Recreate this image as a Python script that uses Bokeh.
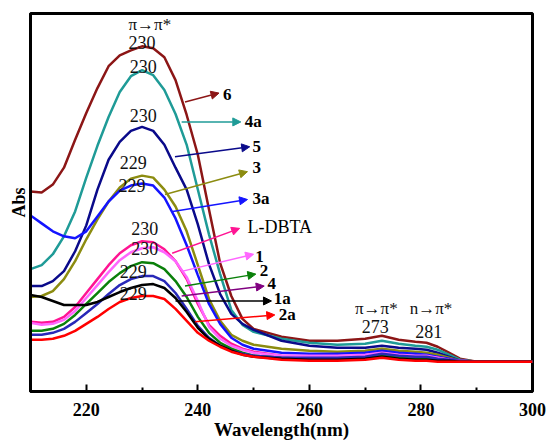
from bokeh.plotting import figure
from bokeh.models import Range1d, FixedTicker, Arrow, NormalHead, ColumnDataSource
from bokeh.core.properties import value
from bokeh.embed import file_html
from bokeh.resources import INLINE

# ---------------- data ----------------
wavelength = [210, 212, 214, 216, 218, 220, 222, 224, 226, 228, 230, 232, 234, 236, 238, 240,
              242, 244, 246, 248, 250, 255, 260, 265, 270, 273, 276, 279, 281, 283, 285, 287,
              290, 295, 300]

abs_6 = [2.01, 2.00, 2.08, 2.25, 2.53, 2.80, 3.05, 3.27, 3.38, 3.43, 3.47, 3.45, 3.36, 3.13, 2.78, 2.38,
         1.83, 1.29, 0.96, 0.73, 0.63, 0.55, 0.51, 0.51, 0.53, 0.56, 0.52, 0.50, 0.49, 0.45, 0.39, 0.33,
         0.30, 0.30, 0.30]
abs_4a = [1.23, 1.27, 1.38, 1.56, 1.81, 2.15, 2.47, 2.76, 3.01, 3.17, 3.23, 3.18, 3.03, 2.79, 2.48, 2.03,
          1.58, 1.18, 0.82, 0.67, 0.60, 0.53, 0.49, 0.47, 0.48, 0.51, 0.48, 0.46, 0.45, 0.42, 0.37, 0.32,
          0.30, 0.30, 0.30]
abs_5 = [1.06, 1.06, 1.11, 1.21, 1.41, 1.67, 2.03, 2.33, 2.51, 2.62, 2.66, 2.62, 2.48, 2.25, 2.03, 1.68,
         1.28, 0.98, 0.78, 0.68, 0.62, 0.51, 0.46, 0.44, 0.44, 0.46, 0.44, 0.43, 0.42, 0.39, 0.35, 0.31,
         0.30, 0.30, 0.30]
abs_3 = [0.95, 0.96, 1.01, 1.13, 1.31, 1.53, 1.73, 1.91, 2.05, 2.14, 2.17, 2.15, 2.03, 1.86, 1.61, 1.27,
         0.93, 0.71, 0.57, 0.51, 0.47, 0.43, 0.41, 0.40, 0.41, 0.43, 0.41, 0.40, 0.39, 0.37, 0.34, 0.31,
         0.30, 0.30, 0.30]
abs_3a = [1.77, 1.69, 1.61, 1.56, 1.54, 1.61, 1.76, 1.91, 2.02, 2.07, 2.09, 2.07, 1.95, 1.74, 1.47, 1.17,
          0.88, 0.68, 0.54, 0.47, 0.43, 0.39, 0.38, 0.38, 0.39, 0.41, 0.39, 0.38, 0.37, 0.35, 0.33, 0.31,
          0.30, 0.30, 0.30]
abs_ldbta = [0.70, 0.69, 0.70, 0.75, 0.85, 0.99, 1.13, 1.27, 1.39, 1.47, 1.51, 1.50, 1.43, 1.31, 1.13, 0.88,
             0.67, 0.56, 0.48, 0.43, 0.40, 0.36, 0.35, 0.35, 0.36, 0.38, 0.36, 0.35, 0.35, 0.34, 0.32, 0.31,
             0.30, 0.30, 0.30]
abs_1 = [0.69, 0.67, 0.68, 0.72, 0.81, 0.94, 1.07, 1.20, 1.32, 1.40, 1.44, 1.45, 1.40, 1.31, 1.15, 0.91,
         0.65, 0.53, 0.46, 0.42, 0.39, 0.36, 0.36, 0.36, 0.37, 0.39, 0.37, 0.36, 0.36, 0.34, 0.32, 0.31,
         0.30, 0.30, 0.30]
abs_2 = [0.61, 0.61, 0.63, 0.68, 0.77, 0.88, 0.99, 1.10, 1.19, 1.26, 1.30, 1.29, 1.23, 1.11, 0.95, 0.75,
         0.59, 0.49, 0.43, 0.39, 0.36, 0.34, 0.33, 0.33, 0.34, 0.36, 0.34, 0.33, 0.33, 0.32, 0.31, 0.30,
         0.30, 0.30, 0.30]
abs_4 = [0.57, 0.57, 0.59, 0.63, 0.70, 0.79, 0.88, 0.98, 1.07, 1.13, 1.16, 1.16, 1.11, 0.99, 0.83, 0.66,
         0.54, 0.46, 0.41, 0.38, 0.36, 0.34, 0.34, 0.34, 0.35, 0.38, 0.36, 0.35, 0.35, 0.33, 0.32, 0.31,
         0.30, 0.30, 0.30]
abs_1a = [0.97, 0.95, 0.91, 0.87, 0.87, 0.87, 0.90, 0.95, 1.00, 1.04, 1.07, 1.08, 1.04, 0.94, 0.80, 0.64,
          0.53, 0.46, 0.41, 0.37, 0.35, 0.33, 0.32, 0.32, 0.33, 0.35, 0.33, 0.32, 0.32, 0.31, 0.31, 0.30,
          0.30, 0.30, 0.30]
abs_2a = [0.52, 0.52, 0.53, 0.56, 0.61, 0.68, 0.75, 0.83, 0.90, 0.94, 0.96, 0.96, 0.93, 0.83, 0.71, 0.59,
          0.51, 0.45, 0.40, 0.37, 0.35, 0.32, 0.31, 0.31, 0.32, 0.34, 0.32, 0.31, 0.31, 0.30, 0.30, 0.30,
          0.30, 0.30, 0.30]

series_names = ["6", "4a", "5", "3", "3a", "L-DBTA", "1", "2", "4", "1a", "2a"]
series_values = [abs_6, abs_4a, abs_5, abs_3, abs_3a, abs_ldbta, abs_1, abs_2, abs_4, abs_1a, abs_2a]
series_colors = ["#8C1616", "#1F9B97", "#0A0A8A", "#8C8C10", "#1414FF", "#FF1493",
                 "#FF66FF", "#0A800A", "#2828B8", "#000000", "#FF0000"]
arrow_colors = ["#8C1616", "#1F9B97", "#0A0A8A", "#8C8C10", "#1414FF", "#FF1493",
                "#FF66FF", "#0A800A", "#800080", "#000000", "#FF0000"]

# series label positions (annotation layout)
label_x = [244.5, 248.4, 249.8, 249.8, 249.8, 248.9, 250.3, 251.1, 252.5, 253.6, 254.5]
label_y = [2.99, 2.71, 2.46, 2.25, 1.94, 1.65, 1.36, 1.22, 1.09, 0.93, 0.77]
arrow_x0 = [237.7, 237.1, 235.9, 234.1, 235.5, 235.4, 237.3, 237.7, 237.1, 236.0, 239.5]
arrow_y0 = [2.91, 2.71, 2.36, 1.98, 1.81, 1.39, 1.21, 1.06, 0.96, 0.91, 0.70]
arrow_x1 = [243.8, 247.7, 249.3, 248.9, 248.9, 247.5, 250.0, 250.4, 251.9, 253.2, 253.8]
arrow_y1 = [3.00, 2.71, 2.46, 2.21, 1.93, 1.64, 1.38, 1.18, 1.06, 0.91, 0.77]

peak_text = ["230", "230", "230", "229", "229", "230", "230", "229", "229", "273", "281"]
peak_x = [230.0, 230.2, 230.2, 228.4, 228.2, 230.5, 230.5, 228.4, 228.4, 271.8, 281.4]
peak_y = [3.51, 3.27, 2.77, 2.30, 2.07, 1.64, 1.44, 1.21, 0.99, 0.65, 0.60]

trans_text = ["\u03c0\u2192\u03c0*", "\u03c0\u2192\u03c0*", "n\u2192\u03c0*"]
trans_x = [231.4, 272.0, 281.8]
trans_y = [3.69, 0.83, 0.83]

x_ticks = [220, 240, 260, 280, 300]

SERIF = "Liberation Serif"

p = figure(width=547, height=442, output_backend="svg", toolbar_location=None,
           x_range=Range1d(210, 300), y_range=Range1d(0, 3.8),
           min_border_left=30, min_border_right=15, min_border_top=13, min_border_bottom=49)
p.background_fill_color = "white"
p.border_fill_color = "white"
p.outline_line_color = "black"
p.outline_line_width = 3
p.xgrid.visible = False
p.ygrid.visible = False

for name, vals, col in zip(series_names, series_values, series_colors):
    p.line(wavelength, vals, line_color=col, line_width=2.5)

for i in range(len(series_names)):
    c = arrow_colors[i]
    p.add_layout(Arrow(end=NormalHead(size=8, fill_color=c, line_color=c, line_width=1),
                       x_start=arrow_x0[i], y_start=arrow_y0[i],
                       x_end=arrow_x1[i], y_end=arrow_y1[i],
                       line_color=c, line_width=1.5))

bold_names = [n for n in series_names if n != "L-DBTA"]
src_bold = ColumnDataSource(dict(
    x=[label_x[i] for i, n in enumerate(series_names) if n != "L-DBTA"],
    y=[label_y[i] for i, n in enumerate(series_names) if n != "L-DBTA"],
    t=bold_names))
p.text("x", "y", text="t", source=src_bold, text_font=value(SERIF), text_font_style="bold",
       text_font_size="17px", text_baseline="middle", text_align="left", text_color="black")
i_l = series_names.index("L-DBTA")
p.text([label_x[i_l]], [label_y[i_l]], text=["L-DBTA"], text_font=value(SERIF),
       text_font_size="18px", text_baseline="middle", text_align="left", text_color="black")

p.text(peak_x, peak_y, text=peak_text, text_font=value(SERIF), text_font_size="18px",
       text_baseline="middle", text_align="center", text_color="#111111")
p.text(trans_x, trans_y, text=trans_text, text_font=value(SERIF), text_font_size="17px",
       text_baseline="middle", text_align="center", text_color="#111111")

# axes
xa = p.xaxis[0]
xa.ticker = FixedTicker(ticks=x_ticks, minor_ticks=[230, 250, 270, 290])
xa.major_tick_in = 7
xa.major_tick_out = 0
xa.minor_tick_in = 4
xa.minor_tick_out = 0
xa.major_tick_line_width = 2
xa.minor_tick_line_width = 2
xa.axis_line_width = 3
xa.major_label_text_font = SERIF
xa.major_label_text_font_style = "bold"
xa.major_label_text_font_size = "18px"
xa.major_label_text_color = "black"
xa.major_label_standoff = 11
xa.axis_label = "Wavelength(nm)"
xa.axis_label_text_font = SERIF
xa.axis_label_text_font_style = "bold"
xa.axis_label_text_font_size = "19px"
xa.axis_label_text_color = "black"
xa.axis_label_standoff = 0

ya = p.yaxis[0]
ya.ticker = FixedTicker(ticks=[])
ya.major_tick_in = 0
ya.major_tick_out = 0
ya.minor_tick_in = 0
ya.minor_tick_out = 0
ya.axis_line_width = 3
ya.major_label_text_font_size = "0px"
ya.axis_label = "Abs"
ya.axis_label_text_font = SERIF
ya.axis_label_text_font_style = "bold"
ya.axis_label_text_font_size = "18px"
ya.axis_label_text_color = "black"
ya.axis_label_standoff = 2

open("out.html", "w").write(file_html(p, INLINE))
